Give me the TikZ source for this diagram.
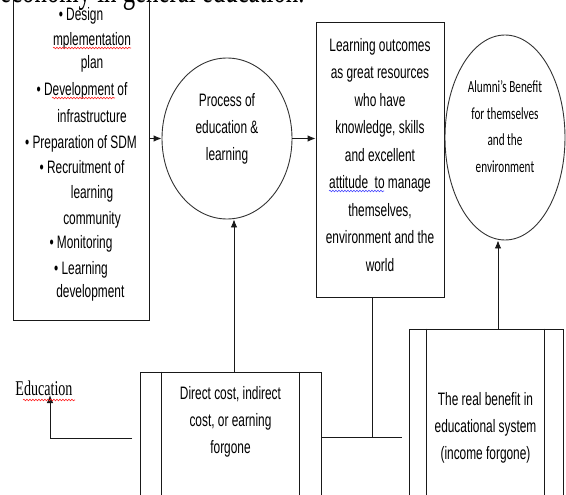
\documentclass[tikz,border=0pt]{standalone}
\usepackage{fontspec}
\setmainfont[FakeStretch=0.67]{Liberation Serif}
\newfontfamily\narrowsans[FakeStretch=0.66]{Liberation Sans}
\newfontfamily\narrowcalib[FakeStretch=0.66]{Carlito}
\usetikzlibrary{shapes.geometric,arrows.meta,decorations.pathmorphing}

\tikzset{
  frame/.style={draw=black!90, line width=0.9pt, rectangle, inner sep=0pt},
  oval/.style={draw=black!80, line width=0.9pt, ellipse, inner sep=0pt},
  body/.style={font=\narrowsans\fontsize{18}{27}\selectfont, align=center, inner sep=0pt},
  small/.style={font=\narrowcalib\fontsize{17}{26.5}\selectfont, align=center, inner sep=0pt},
  link/.style={draw=black!90, line width=0.9pt},
  arr/.style={link, -{Latex[length=8pt,width=6.5pt]}},
  squiggle/.style={red!85, line width=0.6pt, decorate,
    decoration={snake, segment length=3pt, amplitude=0.8pt}}
}

\begin{document}
\begin{tikzpicture}[x=1pt,y=-1pt]
\useasboundingbox (0,0) rectangle (566,495);

% heading, cut by the top of the page
\node[anchor=base west, inner sep=0pt, font=\fontsize{37}{40}\selectfont] (head) at (0,3)
  {economy in general education.};

% input box with its list
\node[frame, minimum width=136pt, minimum height=340pt] (plan) at (81,150) {};
\foreach \n/\x/\y/\txt in {
1/81/21/{\textbullet\ Design},
2/92/46/mplementation,
3/92/69/plan,
4/82/96/{\textbullet\ Development of},
5/92/123/infrastructure,
6/81/149/{\textbullet\ Preparation of SDM},
7/82/174/{\textbullet\ Recruitment of},
8/92/199/learning,
9/92/225/community,
10/81/248/{\textbullet\ Monitoring},
11/81/274/{\textbullet\ Learning},
12/92/298/development
}{
  \node[body, anchor=base] (item\n) at (\x,\y) {\txt};
}

% process
\node[oval, minimum width=130pt, minimum height=161pt] (proc) at (227,138.5) {};
\node[body] (proctxt) at (227,128.5) {Process of\\education \&\\learning};

% outcomes
\node[frame, minimum width=128pt, minimum height=275pt] (outc) at (380,159.5) {};
\node[body, font=\narrowsans\fontsize{18}{27.5}\selectfont] (outctxt) at (380,155)
  {Learning outcomes\\as great resources\\who have\\knowledge, skills\\and excellent\\attitude\ \ to manage\\themselves,\\environment and the\\world};

% benefit
\node[oval, minimum width=120pt, minimum height=205pt] (alum) at (505,137.5) {};
\node[small] (alumtxt) at (505,126.5) {Alumni’s Benefit\\for themselves\\and the\\environment};

% cost box
\node[frame, minimum width=181pt, minimum height=170pt] (cost) at (230.5,457) {};
\draw[link] ([xshift=22pt]cost.north west) -- ([xshift=22pt]cost.south west);
\draw[link] ([xshift=-22pt]cost.north east) -- ([xshift=-22pt]cost.south east);
\node[body] (costtxt) at (230.5,422) {Direct cost, indirect\\cost, or earning\\forgone};

% real benefit box
\node[frame, minimum width=154pt, minimum height=215pt] (real) at (486,436.5) {};
\draw[link] ([xshift=18pt]real.north west) -- ([xshift=18pt]real.south west);
\draw[link] ([xshift=-19pt]real.north east) -- ([xshift=-19pt]real.south east);
\node[body] (realtxt) at (485.5,427.5) {The real benefit in\\educational system\\(income forgone)};

% education label
\node[anchor=base, inner sep=0pt, font=\fontsize{21}{24}\selectfont] (edu) at (44,395) {Education};

% connectors
\coordinate (junc) at (372,437);
\coordinate (jend) at (402,437);
\coordinate (upa) at (234,0);
\coordinate (upb) at (498,0);
\coordinate (lstart) at (132,438);
\draw[arr] (proc.west -| plan.east) -- (proc.west);
\draw[arr] (proc.east) -- (proc.east -| outc.west);
\draw[link] (outc.south -| junc) -- (junc);
\draw[link] (junc -| cost.east) -- (jend);
\draw[arr] (cost.north -| upa) -- (proc.south -| upa);
\draw[arr] (real.north -| upb) -- (alum.south -| upb);
\draw[arr] (lstart) -| ([xshift=6pt]edu.base);

% spell-check marks
\draw[squiggle] (53,48) -- (131,48);
\draw[squiggle] (52,98) -- (115,98);
\draw[squiggle] (23,400) -- (75,400);
\draw[squiggle, blue!70] (329,191) -- (384,191);

\end{tikzpicture}
\end{document}
